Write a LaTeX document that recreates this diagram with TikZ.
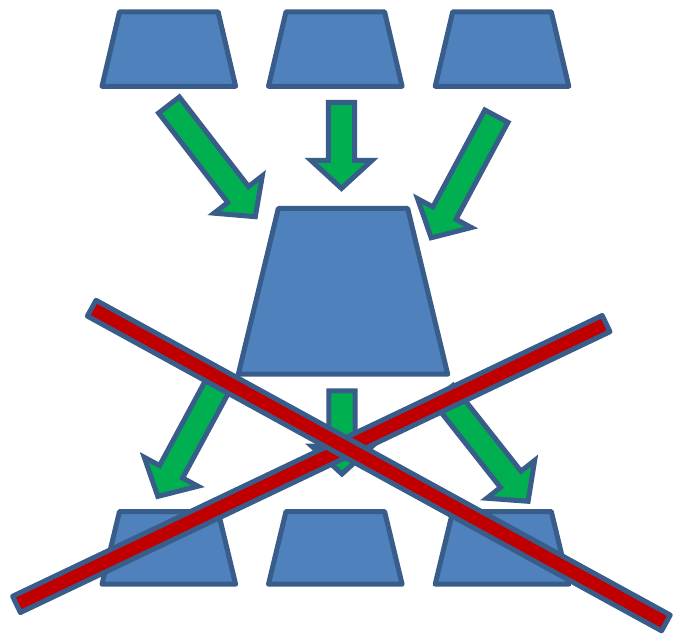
\documentclass[tikz,border=0pt]{standalone}
\definecolor{boxfill}{HTML}{4F81BD}
\definecolor{edgeblue}{HTML}{385D8A}
\definecolor{arrowgreen}{HTML}{00B050}
\definecolor{crossred}{HTML}{C00000}
\tikzset{
  boxshape/.style={fill=boxfill, draw=edgeblue, line width=5pt, line join=round},
  blockarrowshape/.style={fill=arrowgreen, draw=edgeblue, line width=5pt, line join=miter},
  crossbar/.style={fill=crossred, draw=edgeblue, line width=5pt, line join=round},
}
% trapezoid: centre x, top y, bottom y, top half width, bottom half width
\newcommand\trapbox[5]{%
  \draw[boxshape] (#1-#4,#2) -- (#1+#4,#2) -- (#1+#5,#3) -- (#1-#5,#3) -- cycle;}
% block arrow: tail x, tail y, tip x, tip y (image coordinates)
\newcommand\blockarrow[4]{%
  \pgfmathsetmacro\barang{atan2(-(#4-#2),#3-#1)}%
  \pgfmathsetmacro\barlen{veclen(#3-#1,#4-#2)}%
  \begin{scope}[shift={(#1,#2)},rotate=\barang]
    \draw[blockarrowshape] (0,-13.1) -- (\barlen-28,-13.1) -- (\barlen-28,-30.5)
      -- (\barlen,0) -- (\barlen-28,30.5) -- (\barlen-28,13.1) -- (0,13.1) -- cycle;
  \end{scope}}
% crossing bar: end x, end y, other end x, other end y
\newcommand\crossline[4]{%
  \pgfmathsetmacro\barang{atan2(-(#4-#2),#3-#1)}%
  \pgfmathsetmacro\barlen{veclen(#3-#1,#4-#2)}%
  \begin{scope}[shift={(#1,#2)},rotate=\barang]
    \draw[crossbar] (0,-9) -- (\barlen,-9) -- (\barlen,9) -- (0,9) -- cycle;
  \end{scope}}
\begin{document}
\begin{tikzpicture}[x=1pt,y=-1pt]
\useasboundingbox (0,0) rectangle (675,636);
% arrows (drawn first, tails hidden below)
\blockarrow{169}{105}{255.3}{216.7}
\blockarrow{341.5}{102.5}{341.5}{188.4}
\blockarrow{496.4}{116.2}{431.2}{237.8}
\blockarrow{221.7}{378}{157.8}{496.4}
\blockarrow{342}{390.8}{342}{474}
\blockarrow{442.9}{393.5}{528.1}{501.3}
% top row
\trapbox{168.8}{11.8}{86.3}{49.3}{66.8}
\trapbox{335.3}{11.8}{86.3}{49.3}{66.8}
\trapbox{502}{11.8}{86.3}{49.3}{66.8}
% centre
\trapbox{343}{208.5}{374.2}{64.7}{104.7}
% bottom row
\trapbox{168.8}{511.5}{584.2}{49.3}{66.8}
\trapbox{335.3}{511.5}{584.2}{49.3}{66.8}
\trapbox{502}{511.5}{584.2}{49.3}{66.8}
% red cross
\crossline{16.5}{604.4}{606.1}{323.6}
\crossline{91.7}{308.2}{666}{623}
\end{tikzpicture}
\end{document}
